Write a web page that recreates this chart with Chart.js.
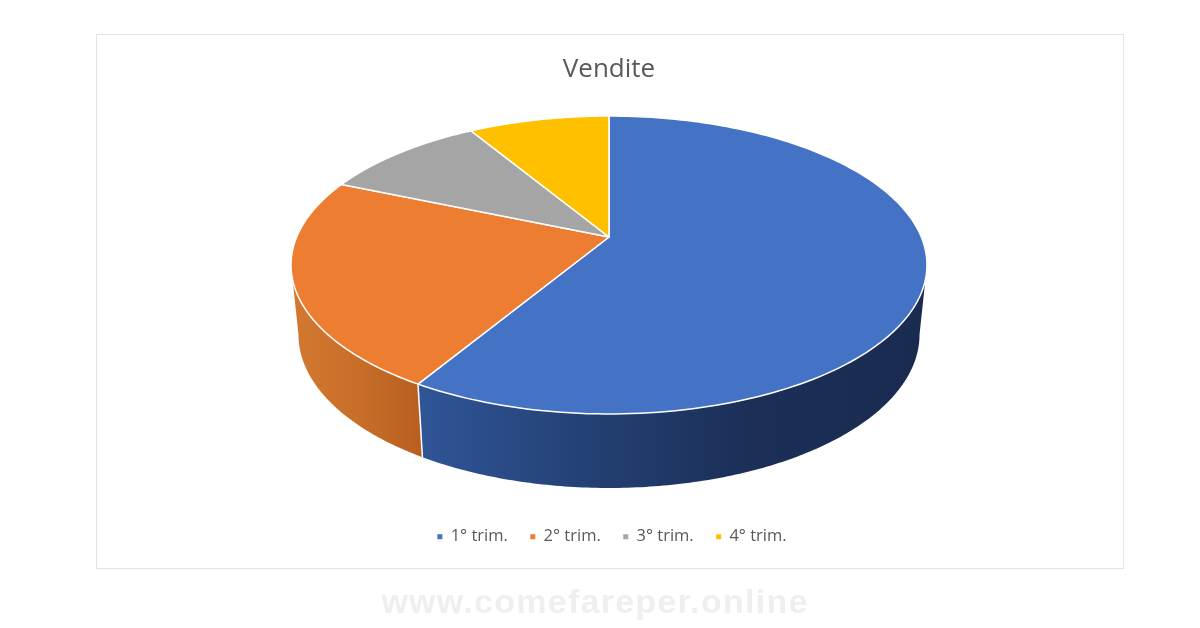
<!DOCTYPE html>
<html>
<head>
<meta charset="utf-8">
<title>Vendite</title>
<script src="https://cdn.jsdelivr.net/npm/chart.js@4"></script>
<style>
    html, body { margin: 0; padding: 0; background: #fff; }
    #wrap { position: relative; width: 1200px; height: 628px; overflow: hidden; }
    #frame { position: absolute; left: 96px; top: 34px; width: 1026px; height: 533px; border: 1.5px solid #e3e3e3; }
    #chart { position: absolute; left: 0; top: 0; }
    #mark { position: absolute; left: 0; width: 1190px; top: 582px; text-align: center; color: #efefef;
            font: bold 34px "Liberation Sans", sans-serif; letter-spacing: 1.27px; }
</style>
</head>
<body>
<div id="wrap">
    <div id="frame"></div>
    <canvas id="chart" width="1200" height="628"></canvas>
    <div id="mark">www.comefareper.online</div>
</div>
<script>
const titleText = 'Vendite';
const categories = ['1° trim.', '2° trim.', '3° trim.', '4° trim.'];
const sales = [8.2, 3.2, 1.4, 1.2];
const colors = ['#4472c4', '#ed7d31', '#a5a5a5', '#ffc000'];

// perspective of the disc: top face and bottom face of the 3d pie
const topFace = { x: 609, y: 237, a: 312.3, b: 143.7, k: 0.188 };
const bottomFace = { x: 609, y: 305.7, a: 305, b: 148, k: 0.188 };

function project(face, angle) {
    // angle as chart.js gives it, -PI/2 is 12 o'clock
    const w = 1 - face.k * Math.sin(angle);
    return [face.x + face.a * Math.cos(angle) / w, face.y + face.b * Math.sin(angle) / w];
}

function arcPoints(face, start, end) {
    const pts = [];
    const n = 160;
    for (let i = 0; i <= n; i++) {
        pts.push(project(face, start + (end - start) * i / n));
    }
    return pts;
}

function tracePoly(ctx, pts) {
    pts.forEach((p, i) => i ? ctx.lineTo(p[0], p[1]) : ctx.moveTo(p[0], p[1]));
}

function wallFill(ctx, index) {
    if (index === 1) {
        const g = ctx.createLinearGradient(294, 0, 422, 0);
        g.addColorStop(0, '#d3782f');
        g.addColorStop(0.5, '#c86e29');
        g.addColorStop(1, '#b85f20');
        return g;
    }
    const g = ctx.createLinearGradient(422, 0, 925, 0);
    g.addColorStop(0, '#2f5597');
    g.addColorStop(0.35, '#233f72');
    g.addColorStop(0.65, '#1b2f57');
    g.addColorStop(1, '#1a2b50');
    return g;
}

const pie3d = {
    id: 'pie3d',
    afterLayout(chart) {
        // legend sits a bit right of the title in the original
        chart.legend.left += 3;
        chart.legend.right += 3;
    },
    beforeDatasetsDraw(chart) {
        const ctx = chart.ctx;
        const arcs = chart.getDatasetMeta(0).data;
        // the wall is only seen between the two points where the disc is widest
        const fold = Math.asin(topFace.k);

        ctx.save();
        // side walls first, the top face hides what is left of them
        [1, 0].forEach(i => {
            const start = Math.max(arcs[i].startAngle, fold);
            const end = Math.min(arcs[i].endAngle, Math.PI - fold);
            const t = arcPoints(topFace, start, end);
            const b = arcPoints(bottomFace, start, end).reverse();
            ctx.beginPath();
            tracePoly(ctx, t.concat(b));
            ctx.closePath();
            ctx.fillStyle = wallFill(ctx, i);
            ctx.fill();
        });
        // edge between blue and orange on the wall
        const p1 = project(topFace, arcs[0].endAngle);
        const p2 = project(bottomFace, arcs[0].endAngle);
        ctx.strokeStyle = '#fff';
        ctx.lineWidth = 1.5;
        ctx.beginPath();
        ctx.moveTo(p1[0], p1[1]);
        ctx.lineTo(p2[0], p2[1]);
        ctx.stroke();

        // top face
        arcs.forEach((arc, i) => {
            ctx.beginPath();
            ctx.moveTo(topFace.x, topFace.y);
            arcPoints(topFace, arc.startAngle, arc.endAngle).forEach(p => ctx.lineTo(p[0], p[1]));
            ctx.closePath();
            ctx.fillStyle = colors[i];
            ctx.fill();
            ctx.lineJoin = 'round';
            ctx.lineWidth = 1.5;
            ctx.strokeStyle = '#fff';
            ctx.stroke();
        });
        ctx.restore();
        return false;
    }
};

new Chart(document.getElementById('chart'), {
    type: 'pie',
    data: {
        labels: categories,
        datasets: [{
            label: titleText,
            data: sales,
            backgroundColor: colors,
            borderWidth: 0
        }]
    },
    plugins: [pie3d],
    options: {
        responsive: false,
        animation: false,
        layout: { padding: { left: 96, right: 78, top: 54, bottom: 73 } },
        plugins: {
            tooltip: { enabled: false },
            title: {
                display: true,
                text: titleText,
                color: '#595959',
                font: { family: '"Open Sans"', size: 26, weight: 'normal' },
                padding: 0
            },
            legend: {
                position: 'bottom',
                labels: {
                    usePointStyle: true,
                    pointStyle: 'rect',
                    boxWidth: 5,
                    boxHeight: 5,
                    padding: 22.5,
                    color: '#595959',
                    font: { family: '"Open Sans"', size: 16.5 }
                }
            }
        }
    }
});
</script>
</body>
</html>
